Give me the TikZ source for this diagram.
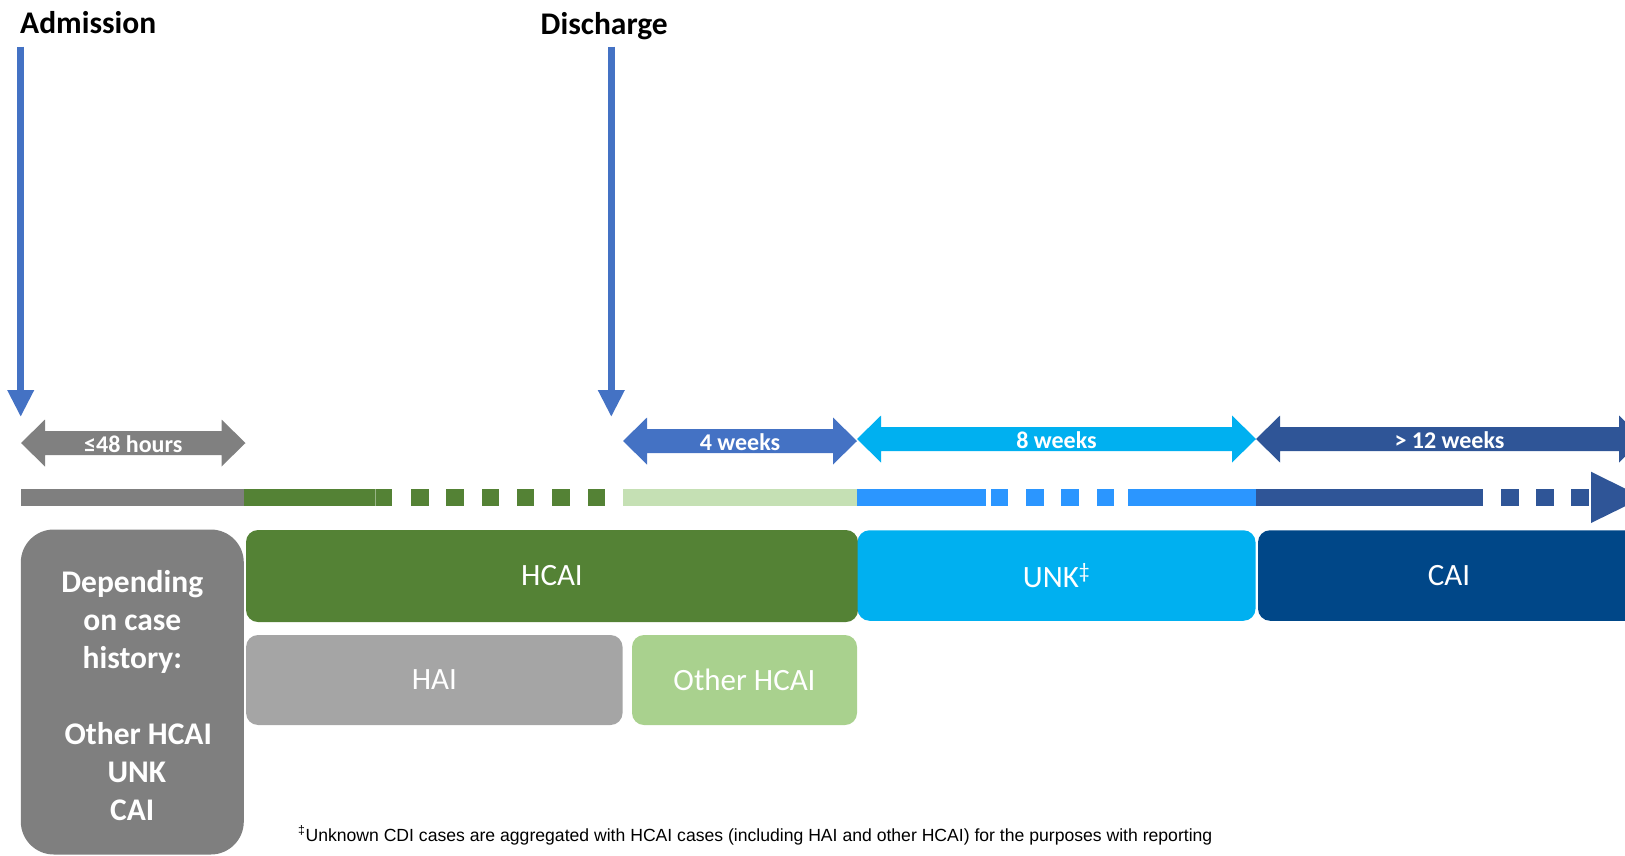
\documentclass[tikz,border=0pt]{standalone}
\usepackage{fontspec}
\setmainfont{Carlito}
\newfontfamily\notefont{Liberation Sans}
\usetikzlibrary{arrows.meta}

\definecolor{markblue}{HTML}{4472C4}
\definecolor{spangray}{HTML}{808080}
\definecolor{spancyan}{HTML}{00B0F0}
\definecolor{spannavy}{HTML}{2F5597}
\definecolor{bargray}{HTML}{7F7F7F}
\definecolor{hcaigreen}{HTML}{548235}
\definecolor{palegreen}{HTML}{C5E0B4}
\definecolor{brightblue}{HTML}{2B96FF}
\definecolor{haigray}{HTML}{A5A5A5}
\definecolor{othergreen}{HTML}{A9D18E}
\definecolor{unkcyan}{HTML}{00B0F0}
\definecolor{cainavy}{HTML}{004788}

% horizontal double-headed span arrow: name, x-left, x-right, y-centre, colour, label
\newcommand\spanarrow[6]{%
  \fill[#5] (#2,#4) -- ({#2+24},{#4-23.5}) -- ({#2+24},{#4-12})
    -- ({#3-24},{#4-12}) -- ({#3-24},{#4-23.5}) -- (#3,#4)
    -- ({#3-24},{#4+23.5}) -- ({#3-24},{#4+12}) -- ({#2+24},{#4+12})
    -- ({#2+24},{#4+23.5}) -- cycle;
  \node[spanlabel] (#1) at ({(#2+#3)/2},{#4+1}) {#6};%
}

\begin{document}
\begin{tikzpicture}[x=1pt,y=-1pt,
  heading/.style={font=\fontsize{31.5}{38}\selectfont\bfseries, text=black, inner sep=0pt},
  spanlabel/.style={font=\fontsize{24}{28}\selectfont\bfseries, text=white, inner sep=0pt},
  catbox/.style={rounded corners=12pt, text=white, inner sep=0pt,
    font=\fontsize{31}{37}\selectfont},
  marker/.style={draw=markblue, line width=6.7pt, -{Triangle[width=25pt,length=27pt]}},
]
\useasboundingbox (0,0) rectangle (1625,855);
\clip (0,0) rectangle (1625,855);

% event markers
\node[heading, anchor=base west] (adm) at (20,33) {Admission};
\node[heading, anchor=base west] (dis) at (540.5,34.5) {Discharge};
\coordinate (admtop) at (20.7,46.7);
\coordinate (admend) at (20.7,417);
\coordinate (distop) at (611.3,46.7);
\coordinate (disend) at (611.3,417);
\draw[marker] (admtop) -- (admend);
\draw[marker] (distop) -- (disend);

% time spans
\spanarrow{h48}{21}{245.5}{443}{spangray}{≤48 hours}
\spanarrow{w4}{623}{857}{441}{markblue}{4 weeks}
\spanarrow{w8}{857}{1256}{439}{spancyan}{8 weeks}
\spanarrow{w12}{1256}{1643}{439}{spannavy}{> 12 weeks}

% timeline bar
\fill[bargray] (21,489) rectangle (244,506);
\fill[hcaigreen] (244,489) rectangle (392,506);
\draw[hcaigreen!60!white, line width=0.8pt] (375,489) -- (375,506);
\foreach \x in {411,446.3,481.6,516.9,552.2,587.5}
  \fill[hcaigreen] (\x,489) rectangle ++(17.5,17);
\fill[palegreen] (623,489) rectangle (857,506);
\fill[brightblue] (857,489) rectangle (985.6,506);
\fill[brightblue] (991,489) rectangle (1008,506);
\foreach \x in {1026,1061.4,1096.7}
  \fill[brightblue] (\x,489) rectangle ++(17.5,17);
\fill[brightblue] (1127.5,489) rectangle (1256,506);
\fill[spannavy] (1256,489) rectangle (1483,506);
\foreach \x in {1500.5,1536,1571}
  \fill[spannavy] (\x,489) rectangle ++(18,17);
\fill[spannavy] (1591,471.7) -- (1643,497.5) -- (1591,523) -- cycle;

% categories
\node[catbox, fill=bargray, rounded corners=33pt, minimum width=223pt, minimum height=325pt] (hist) at (132.3,692) {};
\node[text=white, inner sep=0pt, font=\fontsize{31.5}{38}\selectfont\bfseries, align=center]
  (histtext) at ([yshift=-4pt]hist.center)
  {Depending\\on case\\history:\\[38pt]\hspace*{12pt}Other HCAI\\\hspace*{9pt}UNK\\CAI};
\node[catbox, fill=hcaigreen, minimum width=612pt, minimum height=92pt] (hcai) at (552,576) {HCAI};
\node[catbox, fill=haigray, minimum width=376.5pt, minimum height=90pt] (hai) at (434.3,680) {HAI};
\node[catbox, fill=othergreen, minimum width=225pt, minimum height=90pt] (ohcai) at (744.5,680) {Other HCAI};
\node[catbox, fill=unkcyan, minimum width=398pt, minimum height=90.5pt] (unk) at (1056.5,575.5) {UNK\textsuperscript{‡}};
\node[catbox, fill=cainavy, minimum width=420pt, minimum height=90.5pt] (cai) at (1468,575.5) {};
\node[text=white, font=\fontsize{31}{37}\selectfont, inner sep=0pt] (cailabel) at (1449,575.5) {CAI};

% footnote
\node[anchor=base west, inner sep=0pt, font=\notefont\fontsize{17.6}{21}\selectfont] (note) at (298,841)
  {\textsuperscript{‡}Unknown CDI cases are aggregated with HCAI cases (including HAI and other HCAI) for the purposes with reporting};
\end{tikzpicture}
\end{document}
